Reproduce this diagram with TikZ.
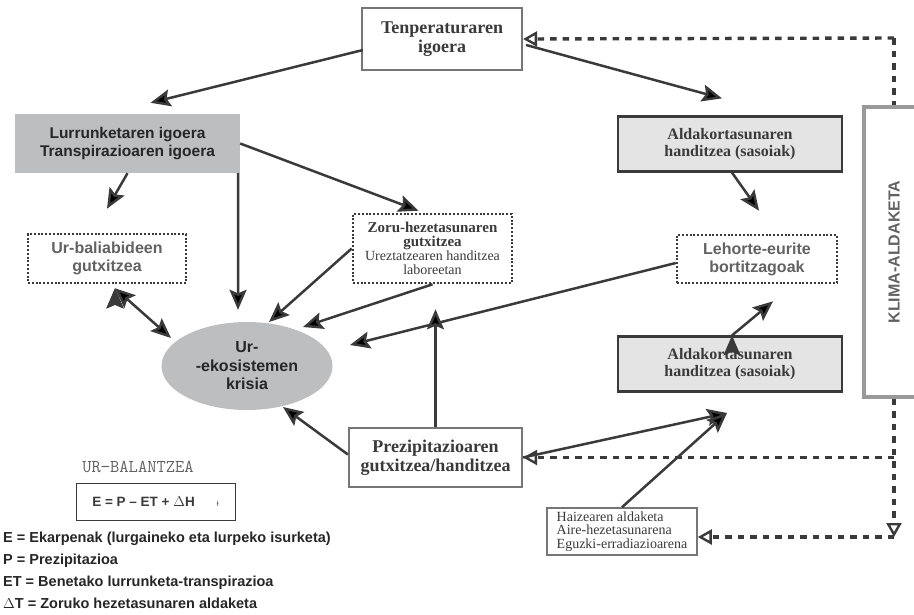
\documentclass[tikz,border=0pt]{standalone}
\usepackage{fontspec}
\setmainfont{Liberation Serif}
\setsansfont{Liberation Sans}
\usetikzlibrary{shapes.geometric,arrows.meta,positioning,calc}
\definecolor{ink}{HTML}{3A3A3A}
\definecolor{boxgray}{HTML}{BDBEC0}
\definecolor{boxlight}{HTML}{E4E4E5}
\definecolor{rim}{HTML}{767676}
\definecolor{fade}{HTML}{626262}
\def\Sz#1#2{\fontsize{#1}{#2}\selectfont}

\begin{document}
\begin{tikzpicture}[% px of the original, y pointing down
		x=1pt,y=-1pt,
		every node/.style={
			align=center,		% "\\" breaks the lines
			inner sep=0pt,
			text=ink
		},
		serifbox/.style={rectangle,draw=rim,line width=2.2pt,fill=white,font=\Sz{18}{19.5}\rmfamily\bfseries},
		greybox/.style={rectangle,fill=boxgray,font=\Sz{15.5}{18}\sffamily\bfseries,text=black!85},
		lightbox/.style={rectangle,draw=ink,line width=2.2pt,fill=boxlight,font=\Sz{16}{17.5}\rmfamily\bfseries,
			minimum width=224,minimum height=55},
		dotbox/.style={rectangle,draw=ink,line width=2.6pt,dash pattern=on 2pt off 1.8pt,fill=white,
			font=\Sz{16}{18}\sffamily\bfseries,text=fade},
		arr/.style={draw=ink,line width=2.5pt,-{Stealth[length=20pt,width=17pt,inset=3.5pt]}},
		arrtwo/.style={draw=ink,line width=2.5pt,{Stealth[length=20pt,width=17pt,inset=3.5pt]}-{Stealth[length=20pt,width=17pt,inset=3.5pt]}},
		dsh/.style={draw=ink,line width=3.4pt,dash pattern=on 6.5pt off 6pt},
		tri/.style={-{Triangle[open,length=14pt,width=15pt,line width=2.4pt]}},
		every edge/.style={draw}
	]
	\useasboundingbox (0,0) rectangle (914,614);

	\node[serifbox,minimum width=160,minimum height=62](Tenp) at (442,39) {Tenperaturaren\\igoera};
	\node[greybox,minimum width=225,minimum height=59](Lurr) at (127.5,143.5) {Lurrunketaren igoera\\Transpirazioaren igoera};
	\node[dotbox,minimum width=158,minimum height=49](Urb) at (107,258.5) {Ur-baliabideen\\gutxitzea};
	\node[dotbox,minimum width=159,minimum height=69,font=\Sz{14}{14}\rmfamily,text=ink](Zoru) at (432.5,248.5)
		{\textbf{\Sz{15}{14}Zoru-hezetasunaren}\\\textbf{\Sz{15}{14}gutxitzea}\\Ureztatzearen handitzea\\laboreetan};
	\node[ellipse,fill=boxgray,minimum width=171,minimum height=88,font=\Sz{16}{18.5}\sffamily\bfseries,text=black!85](Krisia)
		at (247,366) {Ur-\\-ekosistemen\\krisia};
	\node[lightbox](Ald1) at (730,144) {Aldakortasunaren\\handitzea (sasoiak)};
	\node[dotbox,minimum width=160,minimum height=48](Leh) at (757,259) {Lehorte-eurite\\bortitzagoak};
	\node[lightbox](Ald2) at (730,364) {Aldakortasunaren\\handitzea (sasoiak)};
	\node[rectangle,draw=black!40,line width=3.2pt,minimum width=60,minimum height=290,
		label={[rotate=90,font=\Sz{16}{18}\sffamily\bfseries,text=fade]center:KLIMA-ALDAKETA}](Klima) at (894,252) {};
	\node[serifbox,minimum width=173,minimum height=59](Prez) at (435.5,457.5) {Prezipitazioaren\\gutxitzea/handitzea};
	\node[rectangle,draw=rim,line width=1.6pt,fill=white,align=left,minimum width=150,minimum height=47,
		font=\Sz{14}{13.5}\rmfamily](Haiz) at (622,531.5) {Haizearen aldaketa\\Aire-hezetasunarena\\Eguzki-erradiazioarena};

	\node[font=\Sz{18}{18}\ttfamily,text=fade](Bal) at (138,467) {UR\textminus BALANTZEA};
	\node[rectangle,draw=ink,line width=1pt,minimum width=159,minimum height=37,
		font=\Sz{13.5}{14}\sffamily\bfseries](Form) at (155.5,501.5) {E = P -- ET + $\Delta$H\hspace{22pt}{\Sz{7}{7}\mdseries Ɨ}};
	\node[anchor=north west,align=left,font=\Sz{14.5}{21.8}\sffamily\bfseries,text=black!85](Leg) at (3,532)
		{E = Ekarpenak (lurgaineko eta lurpeko isurketa)\\P = Prezipitazioa\\ET = Benetako lurrunketa-transpirazioa\\$\Delta$T = Zoruko hezetasunaren aldaketa};

	\coordinate (Meet) at (727,413);
	\coordinate (Ctop) at (894,38);
	\coordinate (Cmid) at (894,457.5);
	\coordinate (Cbot) at (894,537);

	\path[arr]
		($(Tenp.west)+(2,11)$) edge ($(Lurr.north)+(23,-11)$)
		($(Tenp.east)+(3,6)$) edge ($(Ald1.north)+(-8,-17)$)
		(Lurr.south) edge ($(Urb.north)+(0,-24)$)
		($(Lurr.south east)+(-2,0)$) edge ($(Krisia.north)+(-9,-12)$)
		(Lurr.east) edge ($(Zoru.north)+(-14,-2)$)
		(Zoru.west) edge ($(Krisia.center)+(22,-44)$)
		(Zoru.south) edge ($(Krisia.center)+(56,-39)$)
		($(Leh.west)+(0,4)$) edge ($(Krisia.center)+(103,-21)$)
		($(Prez.west)+(0,-3)$) edge ($(Krisia.center)+(36,41)$)
		(Prez.north) edge ($(Zoru.south)+(3,25)$)
		(Prez.east) edge (Meet)
		(Haiz.north) edge (Meet)
		($(Ald1.south)+(2,0)$) edge ($(Leh.north)+(2,-23)$)
		($(Ald2.north)+(2,0)$) edge ($(Leh.south)+(16,17)$)
		;
	\path[arrtwo] ($(Urb.south)+(8,4)$) edge ($(Krisia.center)+(-76,-28)$);

	\path[dsh]
		(Ctop) edge[tri] (Tenp.east)
		(Ctop) edge (Klima.north)
		(Klima.south) edge[tri] (Cbot)
		(Cmid) edge[tri] (Prez.east)
		(Cbot) edge[tri] (Cbot -| Haiz.east)
		;
\end{tikzpicture}
\end{document}
